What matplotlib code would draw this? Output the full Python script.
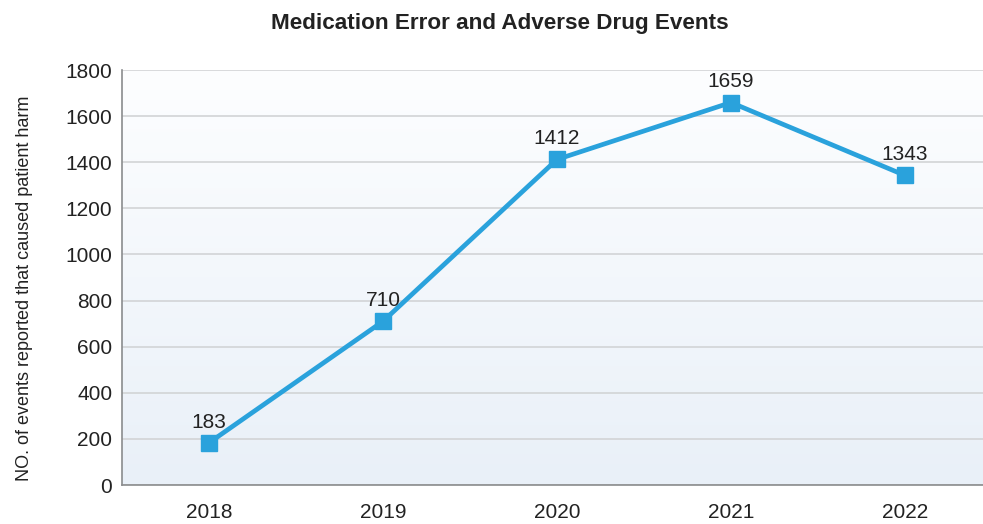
import numpy as np
import matplotlib
matplotlib.use("Agg")
import matplotlib.pyplot as plt
from matplotlib.colors import LinearSegmentedColormap

plt.rcParams["font.family"] = ["Liberation Sans", "DejaVu Sans"]

years = ["2018", "2019", "2020", "2021", "2022"]
events = [183, 710, 1412, 1659, 1343]
y_ticks = [0, 200, 400, 600, 800, 1000, 1200, 1400, 1600, 1800]

LINE_COLOR = "#2aa2dc"
TEXT_COLOR = "#222222"

fig = plt.figure(figsize=(9.83, 5.24), dpi=100)
fig.patch.set_facecolor("white")
ax = fig.add_axes([0.1241, 0.0744, 0.885, 0.792])

# gradient background, light blue at bottom fading to white at top
grad = LinearSegmentedColormap.from_list("bg", ["#e9f0f8", "#fdfeff"])
ax.imshow(np.linspace(0, 1, 256).reshape(-1, 1), cmap=grad, aspect="auto",
          extent=[-0.5, 4.5, 0, 1800], origin="lower", zorder=0)

x = np.arange(len(years))
ax.plot(x, events, color=LINE_COLOR, linewidth=3.4, marker="s",
        markersize=11.5, zorder=3)
for xi, v in zip(x, events):
    ax.annotate(str(v), (xi, v), xytext=(0, 8), textcoords="offset points",
                ha="center", va="bottom", fontsize=15, color=TEXT_COLOR, zorder=4)

ax.set_xlim(-0.5, 4.5)
ax.set_ylim(0, 1800)
ax.set_xticks(x)
ax.set_xticklabels(years)
ax.set_yticks(y_ticks)
ax.tick_params(axis="both", length=0, labelsize=15, colors=TEXT_COLOR)
ax.tick_params(axis="x", pad=13)
ax.tick_params(axis="y", pad=7)

ax.grid(axis="y", color="#d2d4d6", linewidth=1.2, zorder=1)
ax.set_axisbelow(True)
for side in ["top", "right"]:
    ax.spines[side].set_visible(False)
for side in ["left", "bottom"]:
    ax.spines[side].set_color("#8a8c8e")
    ax.spines[side].set_linewidth(1.2)

ax.set_ylabel("NO. of events reported that caused patient harm", fontsize=13,
              color=TEXT_COLOR)
ax.yaxis.set_label_coords(-0.102, 0.475)
fig.suptitle("Medication Error and Adverse Drug Events", x=0.508, y=0.975,
             fontsize=16.2, fontweight="bold", color=TEXT_COLOR)

fig.savefig("out.png", dpi=100)
